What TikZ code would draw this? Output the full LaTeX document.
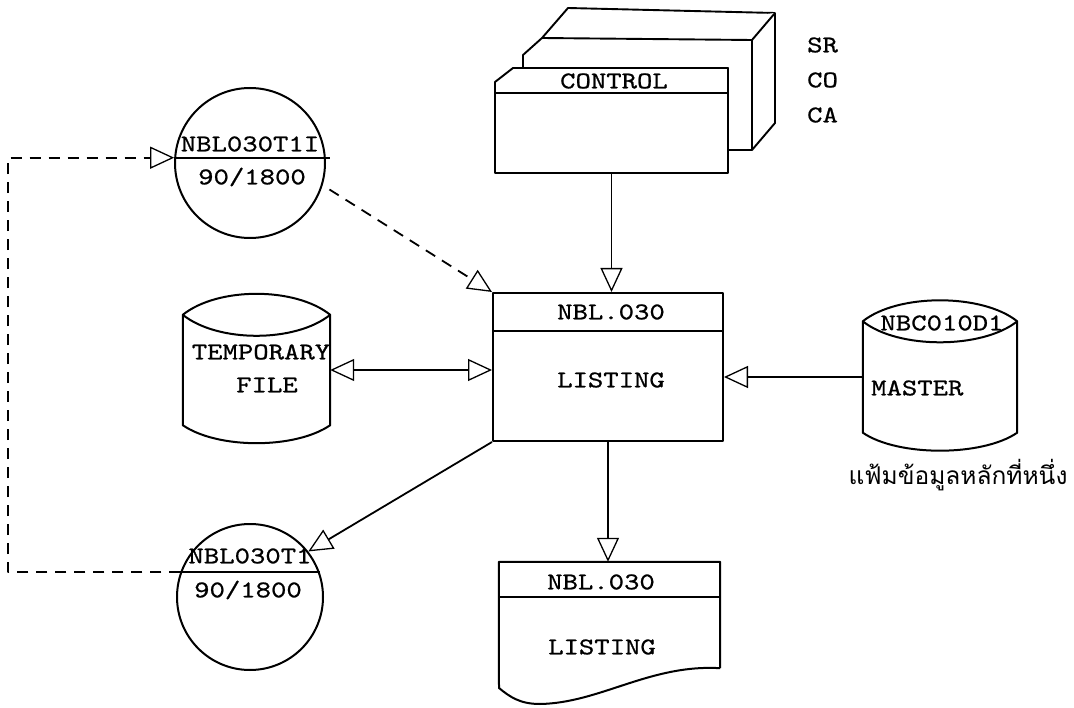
\documentclass[tikz,border=0pt]{standalone}
\usepackage{fontspec}
\newfontfamily\typefont{lmmono10-regular}[Extension=.otf,FakeStretch=1.22,FakeBold=0.8]
\newfontfamily\thaifont[Script=Thai]{Loma}
\usetikzlibrary{arrows.meta,calc}

\tikzset{
  tip/.tip={Triangle[open,length=24pt,width=22pt,line width=1.3pt]},
  flow/.style={line width=1.8pt, -tip},
  feedback/.style={flow, dash pattern=on 11pt off 8pt},
  box/.style={draw, line width=2pt, inner sep=0pt},
  card/.style={line width=1.9pt, fill=white},
  lbl/.style={font=\typefont\fontsize{24}{26}\selectfont, inner sep=1pt},
}

\newcommand{\diskshape}[1]{%
  \draw[box, fill=white] (#1.north west) .. controls +(35,-28) and +(-35,-28) .. (#1.north east)
    -- (#1.south east) .. controls +(-35,24) and +(35,24) .. (#1.south west) -- cycle;
  \draw[box] (#1.north west) .. controls +(35,28) and +(-35,28) .. (#1.north east);}

\begin{document}
\begin{tikzpicture}[x=1pt,y=-1pt,line join=round]
  \useasboundingbox (0,0) rectangle (1074,708);

  % control cards
  \draw[card] (523,68) -- (523,55) -- (542,38) -- (568,8) -- (775,13) -- (775,123) -- (752,150) -- (728,150) -- (728,68) -- cycle;
  \draw[card] (542,38) -- (752,40) -- (775,13) (752,40) -- (752,150);
  \draw[card] (495,82) -- (513,68) -- (728,68) -- (728,173) -- (495,173) -- cycle;
  \draw[line width=1.9pt] (495,93) -- (728,93);
  \node[minimum width=233pt, minimum height=105pt] (ctrl) at (611.5,120.5) {};
  \node[lbl] (ctrltxt) at (614,81) {CONTROL};
  \foreach \t [count=\i] in {SR,CO,CA}
    \node[lbl, anchor=west] (deck\i) at (806,10+35*\i) {\t};

  % process
  \node[box, minimum width=230pt, minimum height=148pt] (proc) at (608,367) {};
  \draw[box] ($(proc.north west)+(0,39)$) -- ($(proc.north east)+(0,39)$);
  \node[lbl] (proctitle) at (611,312) {NBL.030};
  \node[lbl] (proctxt) at (611,380) {LISTING};

  % tapes
  \node[box, circle, minimum size=150pt] (tapeA) at (250,163) {};
  \draw[box] (tapeA.176) -- ($(tapeA.4)+(4,0)$);
  \node[lbl] (tapeAname) at (250,144) {NBL030T1I};
  \node[lbl] (tapeAsize) at (252,177) {90/1800};
  \node[box, circle, minimum size=146pt] (tapeB) at (250,597) {};
  \draw[box] (tapeB.160) -- (tapeB.20);
  \node[lbl] (tapeBname) at (250,556) {NBL030T1};
  \node[lbl] (tapeBsize) at (248,590) {90/1800};

  % disks
  \node[minimum width=147pt, minimum height=110pt] (temp) at (256.5,370) {};
  \diskshape{temp}
  \node[lbl] (temptxt) at (261,352) {TEMPORARY};
  \node[lbl] (temptxt2) at (267,385) {FILE};
  \node[minimum width=154pt, minimum height=111pt] (master) at (940,377) {};
  \diskshape{master}
  \node[lbl] (mastername) at (942,323) {NBC010D1};
  \node[lbl, anchor=west] (mastertxt) at (870,388) {MASTER};
  \node[font=\thaifont\fontsize{24.5}{27}\selectfont] (mastercap) at (958,475) {แฟ้มข้อมูลหลักที่หนึ่ง};

  % document
  \node[minimum width=221pt, minimum height=106pt] (doc) at (609.5,615) {};
  \draw[box, fill=white] (doc.south east) -- (doc.north east) -- (doc.north west) -- (499,688)
    .. controls (510,697) and (520,704) .. (540,704)
    .. controls (600,703) and (650,664) .. (doc.south east);
  \draw[box] ($(doc.north west)+(0,35)$) -- ($(doc.north east)+(0,35)$);
  \node[lbl] (doctitle) at (601,582) {NBL.030};
  \node[lbl] (doctxt) at (602,647) {LISTING};

  % connectors
  \draw[flow] (ctrl.south) -- (ctrl.south |- proc.north);
  \draw[flow] (proc.south) -- (proc.south |- doc.north);
  \draw[flow] (master.west) -- (master.west -| proc.east);
  \draw[flow, tip-tip] (temp.east) -- (temp.east -| proc.west);
  \draw[flow] (proc.south west) -- (tapeB.38);
  \draw[feedback, shorten <=8pt] (tapeA.-17) -- (proc.north west);
  \coordinate (loop) at (8,0);
  \draw[feedback] (tapeB.160) -- (tapeB.160 -| loop) -- (tapeA.176 -| loop) -- (tapeA.176);
\end{tikzpicture}
\end{document}
